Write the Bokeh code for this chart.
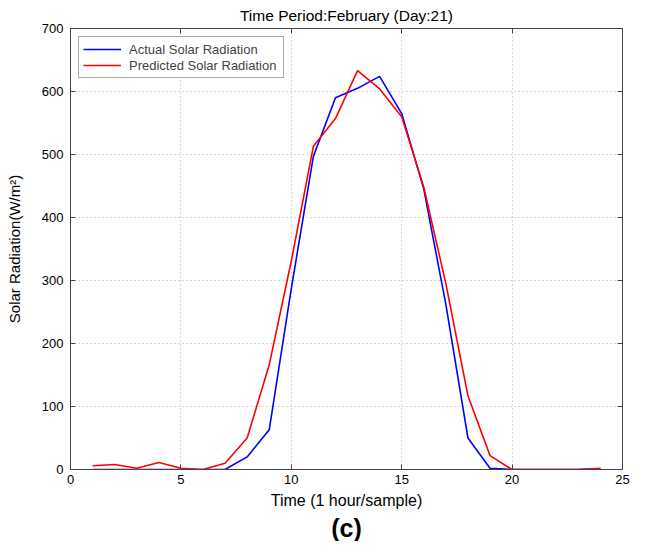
from bokeh.plotting import figure
from bokeh.models import LinearAxis, FixedTicker, Title, Range1d, Legend, LegendItem
from bokeh.embed import file_html
from bokeh.resources import INLINE

hours = list(range(1, 25))
actual = [0, 0, 0, 0, 0, 0, 0, 20, 63, 287, 497, 590, 605, 624, 565, 445, 262, 50, 2, 0, 0, 0, 0, 1]
predicted = [6, 8, 2, 11, 2, 0, 10, 50, 166, 331, 513, 557, 633, 604, 560, 448, 295, 117, 22, 0, 0, 0, 0, 2]
x_ticks = [0, 5, 10, 15, 20, 25]
y_ticks = [0, 100, 200, 300, 400, 500, 600, 700]

FONT = "Liberation Sans"
AX = "#444444"

p = figure(width=630, height=541, output_backend="svg", toolbar_location=None,
           x_range=Range1d(0, 25), y_range=Range1d(0, 700),
           min_border_left=70, min_border_right=8, min_border_top=7, min_border_bottom=0)

p.title.text = "Time Period:February (Day:21)"
p.title.align = "center"
p.title.text_font = FONT
p.title.text_font_size = "15.5px"
p.title.text_font_style = "normal"
p.title.text_color = "#000000"
p.title.standoff = 9

l1 = p.line(hours, actual, line_color="#0000ff", line_width=1.6)
l2 = p.line(hours, predicted, line_color="#ff0000", line_width=1.6)

legend = Legend(items=[LegendItem(label="Actual Solar Radiation", renderers=[l1]),
                       LegendItem(label="Predicted Solar Radiation", renderers=[l2])],
                location="top_left")
legend.label_text_font = FONT
legend.label_text_font_size = "13px"
legend.glyph_width = 38
legend.glyph_height = 16
legend.label_height = 16
legend.label_width = 150
legend.spacing = 0
legend.padding = 4
legend.margin = 8
legend.label_standoff = 8
legend.border_line_color = "#555555"
legend.border_line_width = 1
p.add_layout(legend)

p.xaxis.ticker = FixedTicker(ticks=x_ticks)
p.yaxis.ticker = FixedTicker(ticks=y_ticks)
for ax in [p.xaxis[0], p.yaxis[0]]:
    ax.major_tick_in = 5
    ax.major_tick_out = 0
    ax.minor_tick_line_color = None
    ax.axis_line_color = AX
    ax.major_tick_line_color = AX
    ax.major_label_text_font = FONT
    ax.major_label_text_font_size = "13px"
    ax.major_label_text_color = "#000000"
    ax.axis_label_text_font = FONT
    ax.axis_label_text_font_style = "normal"
    ax.axis_label_text_color = "#000000"

p.xaxis.axis_label = "Time (1 hour/sample)"
p.yaxis.axis_label = "Solar Radiation(W/m²)"
p.xaxis.axis_label_text_font_size = "16px"
p.yaxis.axis_label_text_font_size = "15px"
p.xaxis.major_label_standoff = 5
p.yaxis.major_label_standoff = 7
p.xaxis.axis_label_standoff = 5
p.yaxis.axis_label_standoff = 16

top = LinearAxis(ticker=FixedTicker(ticks=x_ticks),
                 major_label_overrides={t: "" for t in x_ticks})
right = LinearAxis(ticker=FixedTicker(ticks=y_ticks),
                   major_label_overrides={t: "" for t in y_ticks})
for ax in [top, right]:
    ax.major_tick_in = 5
    ax.major_tick_out = 0
    ax.minor_tick_line_color = None
    ax.axis_line_color = AX
    ax.major_tick_line_color = AX
    ax.major_label_standoff = 0
p.add_layout(top, "above")
p.add_layout(right, "right")

cap = Title(text="(c)", align="center", text_font=FONT, text_font_size="25px",
            text_font_style="bold", text_color="#000000", standoff=0)
p.add_layout(cap, "below")

p.xgrid.ticker = FixedTicker(ticks=x_ticks)
p.ygrid.ticker = FixedTicker(ticks=y_ticks)
p.grid.grid_line_color = "#b0b0b0"
p.grid.grid_line_dash = "1 3"
p.grid.grid_line_width = 1

p.outline_line_color = AX
p.background_fill_color = "white"
p.border_fill_color = "white"

open("out.html", "w").write(file_html(p, INLINE))
